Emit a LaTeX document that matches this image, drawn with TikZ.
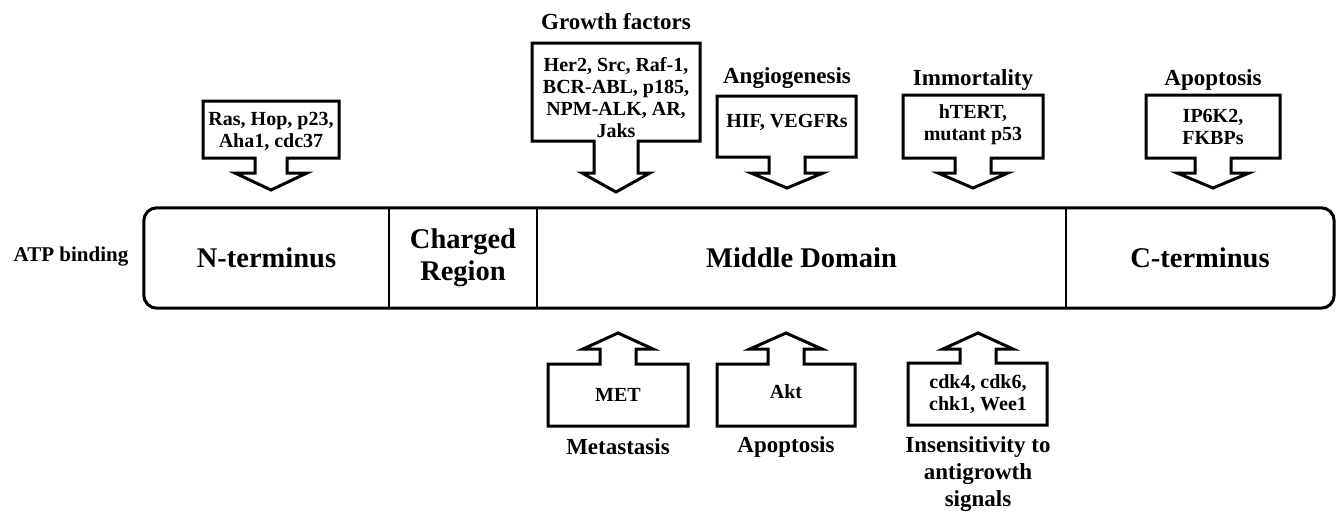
\documentclass[tikz,border=0pt]{standalone}
\usepackage{fontspec}
\setmainfont{Liberation Serif}
% #1 L, #2 R, #3 far side y, #4 near side y, #5 centre x, #6 shaft half, #7 head half, #8 head base y, #9 tip y
\newcommand\calloutbox[9]{%
  \draw[callout] (#1,#3) -- (#2,#3) -- (#2,#4) -- ({#5+#6},#4) -- ({#5+#6},#8)
    -- ({#5+#7},#8) -- (#5,#9) -- ({#5-#7},#8) -- ({#5-#6},#8) -- ({#5-#6},#4)
    -- (#1,#4) -- cycle;}
\begin{document}
\begin{tikzpicture}[x=1pt,y=-1pt,line join=miter,
  callout/.style={draw,line width=3pt,fill=white},
  boxtext/.style={font=\fontsize{20}{22}\selectfont\bfseries,align=center,inner sep=0pt},
  cat/.style={font=\fontsize{23}{27}\selectfont\bfseries,align=center,inner sep=0pt},
  segtext/.style={font=\fontsize{28.5}{32}\selectfont\bfseries,align=center,inner sep=0pt},
  seg/.style={minimum height=100pt,inner sep=0pt,draw=none},
  divider/.style={line width=2.5pt},
  outer/.style={line width=3pt,rounded corners=13pt}]
\useasboundingbox (0,0) rectangle (1336,512);

% main bar
\node[seg,segtext,minimum width=245pt] (nterm) at (266.5,258) {N-terminus};
\node[seg,segtext,minimum width=148pt] (charged) at (463,258) {Charged\\Region};
\node[seg,segtext,minimum width=529pt] (middle) at (801.5,258) {Middle Domain};
\node[seg,segtext,minimum width=268pt] (cterm) at (1200,258) {C-terminus};
\draw[outer] (nterm.north west) rectangle (cterm.south east);
\draw[divider] (nterm.north east) -- (nterm.south east);
\draw[divider] (charged.north east) -- (charged.south east);
\draw[divider] (middle.north east) -- (middle.south east);

\node[font=\fontsize{21}{24}\selectfont\bfseries,inner sep=0pt] (atp) at (71,257) {ATP binding};

% upper callouts
\calloutbox{203}{339}{101}{158}{271}{16}{36}{173}{190}
\node[boxtext] (ras) at (271,131) {Ras, Hop, p23,\\Aha1, cdc37};

\calloutbox{532}{700}{43}{141}{616}{22}{34}{173}{192}
\node[boxtext] (her) at (616,98) {Her2, Src, Raf-1,\\BCR-ABL, p185,\\NPM-ALK, AR,\\Jaks};
\node[cat] (growth) at (616,22) {Growth factors};

\calloutbox{717}{856}{96}{157}{787}{18}{36}{173}{188}
\node[boxtext] (hif) at (787,122) {HIF, VEGFRs};
\node[cat] (angio) at (787,78) {Angiogenesis};

\calloutbox{903}{1043}{95}{158}{973}{18}{35}{173}{188}
\node[boxtext] (htert) at (973,125) {hTERT,\\mutant p53};
\node[cat] (immort) at (973,80) {Immortality};

\calloutbox{1146}{1280}{95}{158}{1213}{18}{36}{173}{188}
\node[boxtext] (ip6k) at (1213,127) {IP6K2,\\FKBPs};
\node[cat] (apoptop) at (1213,80) {Apoptosis};

% lower callouts
\calloutbox{548}{688}{426}{364}{618}{18}{35}{349}{333}
\node[boxtext] (met) at (618,395) {MET};
\node[cat] (metast) at (618,447) {Metastasis};

\calloutbox{717}{855}{426}{364}{786}{18}{36}{349}{333}
\node[boxtext] (akt) at (786,392) {Akt};
\node[cat] (apopbot) at (786,447) {Apoptosis};

\calloutbox{908}{1047}{425}{363}{978}{18}{35}{349}{333}
\node[boxtext] (cdk) at (978,394) {cdk4, cdk6,\\chk1, Wee1};
\node[cat] (insens) at (978,474) {Insensitivity to\\antigrowth\\signals};
\end{tikzpicture}
\end{document}
